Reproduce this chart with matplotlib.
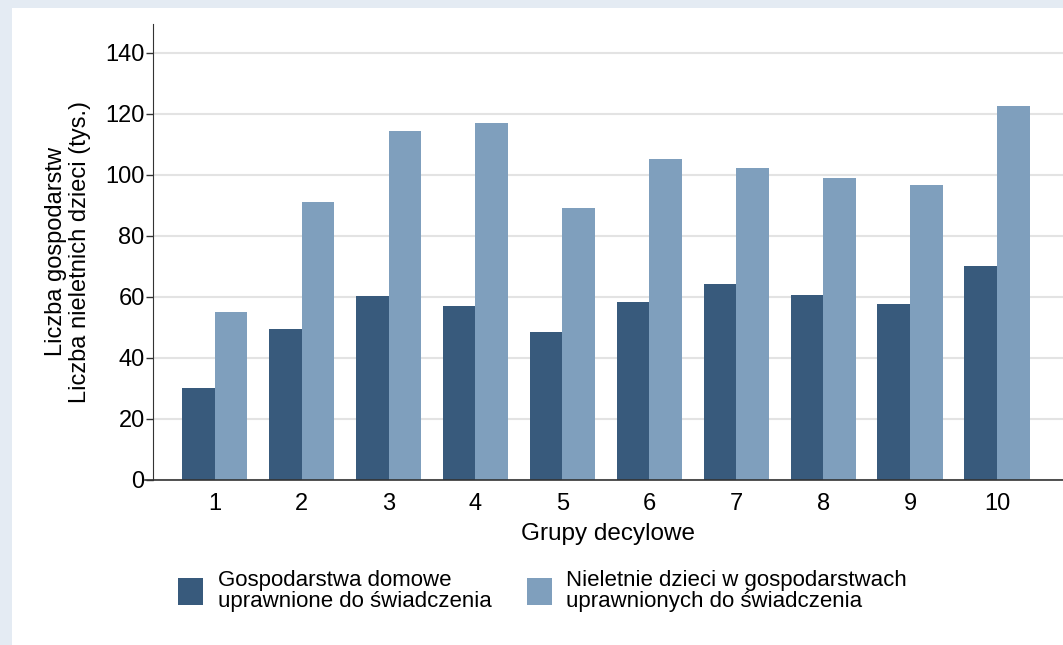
import numpy as np
import matplotlib
matplotlib.use("Agg")
import matplotlib.pyplot as plt
from matplotlib.patches import Rectangle

plt.rcParams['font.family'] = ['Liberation Sans', 'DejaVu Sans']

# dane
grupy = ['1', '2', '3', '4', '5', '6', '7', '8', '9', '10']
gospodarstwa = [30.2, 49.6, 60.2, 57.1, 48.4, 58.4, 64.1, 60.7, 57.8, 70.2]
dzieci = [55.1, 91.3, 114.4, 117.0, 89.3, 105.1, 102.3, 98.9, 96.6, 122.5]
etykieta_gosp = 'Gospodarstwa domowe\nuprawnione do świadczenia'
etykieta_dzieci = 'Nieletnie dzieci w gospodarstwach\nuprawnionych do świadczenia'

c_ciemny = '#385a7c'
c_jasny = '#7f9fbd'

fig = plt.figure(figsize=(10.63, 6.45), dpi=100)
fig.patch.set_facecolor('#e4ebf3')
# białe tło panelu
fig.add_artist(Rectangle((12 / 1063, 0), 1, 1 - 8 / 645, transform=fig.transFigure,
                         facecolor='white', edgecolor='none', zorder=0))

ax = fig.add_axes([153 / 1063, 1 - 480 / 645, 1 - 153 / 1063, (480 - 24) / 645])
ax.set_facecolor('white')

x = np.arange(1, len(grupy) + 1)
w = 0.375
ax.bar(x - w / 2, gospodarstwa, w, color=c_ciemny, label=etykieta_gosp, zorder=3)
ax.bar(x + w / 2, dzieci, w, color=c_jasny, label=etykieta_dzieci, zorder=3)

ax.set_xlim(0.29, 10.76)
ax.set_ylim(0, 149.5)
ax.set_yticks(range(0, 141, 20))
ax.set_xticks(x)
ax.set_xticklabels(grupy)
ax.tick_params(axis='y', labelsize=17, length=5, width=1, color='#333333', pad=1)
ax.tick_params(axis='x', labelsize=17, length=0, pad=9)
ax.yaxis.grid(True, color='#e3e3e3', linewidth=1.5, zorder=0)
ax.set_axisbelow(True)

for s in ['top', 'right', 'bottom']:
    ax.spines[s].set_visible(False)
ax.spines['left'].set_color('#333333')
# oś x wystaje trochę w lewo za oś y
ax.axhline(0, xmin=-8 / 910, xmax=1, color='#333333', linewidth=1.2, clip_on=False, zorder=4)

ax.set_xlabel('Grupy decylowe', fontsize=17.5, labelpad=6)
ax.set_ylabel('Liczba gospodarstw\nLiczba nieletnich dzieci (tys.)', fontsize=17,
              labelpad=10, linespacing=1.15)

leg = fig.legend(loc='center left', bbox_to_anchor=(178 / 1063, 1 - 591 / 645), ncol=2,
                 frameon=False, fontsize=16, handlelength=1.14, handleheight=1.45,
                 handletextpad=0.64, columnspacing=1.6, borderaxespad=0, borderpad=0,
                 bbox_transform=fig.transFigure)
for t in leg.get_texts():
    t.set_linespacing(1.0)

fig.savefig('out.png', dpi=100, facecolor=fig.get_facecolor())
